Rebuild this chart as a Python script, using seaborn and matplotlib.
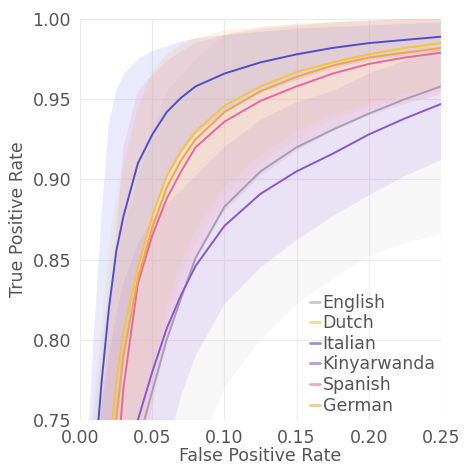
"""
ROC curves (mean +/- band) per language, zoomed to the top-left corner.
"""
import numpy as np
import pandas as pd
import matplotlib
matplotlib.use('Agg')
import matplotlib.pyplot as plt
import seaborn as sns

languages = ['English', 'Dutch', 'Italian', 'Kinyarwanda', 'Spanish', 'German']

fpr = [0.0, 0.005, 0.01, 0.015, 0.02, 0.025, 0.03, 0.04, 0.05, 0.06,
       0.07, 0.08, 0.10, 0.125, 0.15, 0.175, 0.20, 0.225, 0.25]

# mean true positive rate per language
english_tpr = [0.36, 0.45, 0.52, 0.57, 0.61, 0.645, 0.70, 0.735, 0.768, 0.80,
               0.826, 0.851, 0.883, 0.905, 0.92, 0.931, 0.941, 0.95, 0.958]
dutch_tpr = [0.45, 0.55, 0.62, 0.67, 0.725, 0.775, 0.805, 0.845, 0.877, 0.902,
             0.918, 0.93, 0.946, 0.958, 0.967, 0.973, 0.978, 0.982, 0.985]
italian_tpr = [0.55, 0.66, 0.72, 0.775, 0.82, 0.855, 0.877, 0.91, 0.928, 0.942,
               0.951, 0.958, 0.966, 0.973, 0.978, 0.982, 0.985, 0.987, 0.989]
kinyarwanda_tpr = [0.38, 0.48, 0.55, 0.60, 0.645, 0.68, 0.71, 0.75, 0.78, 0.807,
                   0.828, 0.846, 0.871, 0.891, 0.905, 0.916, 0.928, 0.938, 0.947]
spanish_tpr = [0.40, 0.48, 0.55, 0.61, 0.66, 0.715, 0.77, 0.835, 0.865, 0.888,
               0.905, 0.92, 0.936, 0.949, 0.958, 0.966, 0.972, 0.976, 0.979]
german_tpr = [0.42, 0.52, 0.59, 0.645, 0.695, 0.75, 0.79, 0.838, 0.87, 0.895,
              0.912, 0.925, 0.942, 0.955, 0.964, 0.971, 0.976, 0.979, 0.982]

# lower / upper edge of the shaded band
english_lo = [0.10, 0.20, 0.28, 0.34, 0.39, 0.44, 0.48, 0.55, 0.61, 0.65,
              0.69, 0.725, 0.77, 0.80, 0.822, 0.838, 0.852, 0.86, 0.866]
english_hi = [0.62, 0.70, 0.76, 0.80, 0.83, 0.85, 0.87, 0.90, 0.93, 0.955,
              0.965, 0.975, 0.99, 0.995, 0.997, 0.998, 0.999, 1.0, 1.0]
dutch_lo = [0.30, 0.40, 0.47, 0.53, 0.58, 0.63, 0.67, 0.73, 0.78, 0.82,
            0.848, 0.868, 0.895, 0.915, 0.93, 0.94, 0.947, 0.953, 0.958]
dutch_hi = [0.60, 0.70, 0.77, 0.81, 0.86, 0.89, 0.91, 0.945, 0.968, 0.978,
            0.984, 0.988, 0.993, 0.995, 0.997, 0.998, 0.999, 1.0, 1.0]
italian_lo = [0.42, 0.59, 0.63, 0.67, 0.705, 0.755, 0.79, 0.845, 0.876, 0.901,
              0.916, 0.928, 0.942, 0.954, 0.962, 0.969, 0.974, 0.977, 0.98]
italian_hi = [0.68, 0.73, 0.81, 0.88, 0.935, 0.955, 0.965, 0.975, 0.98, 0.983,
              0.986, 0.988, 0.99, 0.992, 0.994, 0.995, 0.996, 0.997, 0.998]
kinyarwanda_lo = [0.08, 0.16, 0.24, 0.31, 0.37, 0.42, 0.47, 0.56, 0.65, 0.73,
                  0.765, 0.79, 0.822, 0.845, 0.862, 0.877, 0.89, 0.902, 0.912]
kinyarwanda_hi = [0.55, 0.65, 0.72, 0.76, 0.79, 0.815, 0.835, 0.86, 0.875, 0.885,
                  0.893, 0.902, 0.92, 0.937, 0.948, 0.955, 0.966, 0.974, 0.982]
spanish_lo = [0.25, 0.33, 0.40, 0.46, 0.51, 0.565, 0.62, 0.70, 0.76, 0.80,
              0.83, 0.85, 0.88, 0.902, 0.918, 0.93, 0.94, 0.947, 0.953]
spanish_hi = [0.55, 0.63, 0.70, 0.76, 0.81, 0.865, 0.92, 0.955, 0.965, 0.974,
              0.98, 0.985, 0.99, 0.994, 0.996, 0.998, 0.999, 1.0, 1.0]
german_lo = [0.27, 0.37, 0.44, 0.50, 0.55, 0.60, 0.645, 0.715, 0.77, 0.81,
             0.84, 0.86, 0.89, 0.91, 0.925, 0.937, 0.945, 0.95, 0.955]
german_hi = [0.57, 0.67, 0.74, 0.79, 0.84, 0.88, 0.905, 0.945, 0.966, 0.978,
             0.984, 0.988, 0.993, 0.995, 0.997, 0.998, 0.999, 1.0, 1.0]

colors = ['#a39fb0', '#f0c63c', '#4a4fd0', '#8a55d4', '#e8689c', '#f5a53c']
band_colors = ['#b0adb8', '#f3cc55', '#7d86f0', '#a878e6', '#ea7fb4', '#f7b866']
band_alpha = [0.09, 0.1, 0.17, 0.16, 0.16, 0.08]

means = [english_tpr, dutch_tpr, italian_tpr, kinyarwanda_tpr, spanish_tpr, german_tpr]
lows = [english_lo, dutch_lo, italian_lo, kinyarwanda_lo, spanish_lo, german_lo]
highs = [english_hi, dutch_hi, italian_hi, kinyarwanda_hi, spanish_hi, german_hi]


if __name__ == '__main__':

    sns.set_style('whitegrid', {'grid.color': '#ececec', 'axes.edgecolor': 'white'})
    plt.rcParams['font.family'] = ['DejaVu Sans']

    frames = []
    for lang, tpr in zip(languages, means):
        frames.append(pd.DataFrame({'fpr': fpr, 'tpr': tpr, 'Language': lang}))
    data = pd.concat(frames, ignore_index=True)

    fig, ax = plt.subplots(figsize=(4.66, 4.65), dpi=100)
    fig.subplots_adjust(left=0.172, right=0.946, bottom=0.097, top=0.959)

    for lo, hi, col, a in zip(lows, highs, band_colors, band_alpha):
        ax.fill_between(fpr, lo, hi, color=col, alpha=a, linewidth=0)

    sns.lineplot(data=data, x='fpr', y='tpr', hue='Language', hue_order=languages,
                 palette=colors, linewidth=1.4, ax=ax)
    for line in ax.get_lines():
        line.set_solid_joinstyle('round')

    ax.set_xlim(0, 0.25)
    ax.set_ylim(0.75, 1.0)
    ax.set_xticks([0.0, 0.05, 0.10, 0.15, 0.20, 0.25])
    ax.set_yticks([0.75, 0.80, 0.85, 0.90, 0.95, 1.00])
    ax.xaxis.set_major_formatter(plt.FormatStrFormatter('%.2f'))
    ax.yaxis.set_major_formatter(plt.FormatStrFormatter('%.2f'))
    ax.tick_params(labelsize=12.5, colors='#555555', pad=3)
    ax.set_xlabel('False Positive Rate', fontsize=12.5, color='#555555', labelpad=0)
    ax.set_ylabel('True Positive Rate', fontsize=12.5, color='#555555', labelpad=4)
    sns.despine(ax=ax, left=True, bottom=True)

    leg = ax.legend(loc='lower right', frameon=False, fontsize=12.5,
                    handlelength=0.6, handletextpad=0.15, labelspacing=0.15,
                    borderaxespad=0.2, borderpad=0.1)
    for h in leg.get_lines():
        h.set_alpha(0.6)
        h.set_linewidth(2)
    for t in leg.get_texts():
        t.set_color('#555555')

    fig.savefig('out.png', dpi=100)
